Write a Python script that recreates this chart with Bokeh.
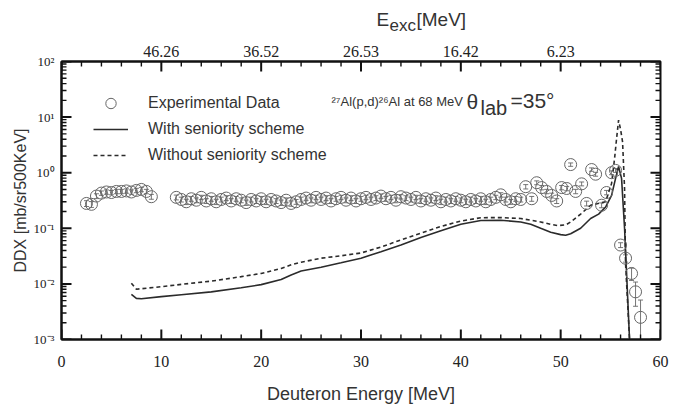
from bokeh.plotting import figure
from bokeh.layouts import column
from bokeh.models import (LinearAxis, FixedTicker, Range1d, Whisker,
                          ColumnDataSource, Legend, LegendItem, Label, TeeHead)
from bokeh.embed import file_html
from bokeh.resources import INLINE

# ---------------- data ----------------
# experimental data: low-energy group
g1_E = [2.5, 3.0, 3.5, 4.0, 4.5, 5.0, 5.5, 6.0, 6.5, 7.0, 7.5, 8.0, 8.5, 9.0]
g1_v = [0.28, 0.27, 0.38, 0.43, 0.45, 0.44, 0.46, 0.46, 0.47, 0.45, 0.48, 0.50, 0.46, 0.37]
g1_err = [0.12, 0.12, 0.10, 0.09, 0.09, 0.09, 0.09, 0.09, 0.09, 0.09, 0.09, 0.09, 0.09, 0.10]

# experimental data: continuum group
g2_E = [11.5, 12.0, 12.5, 13.0, 13.5, 14.0, 14.5, 15.0, 15.5, 16.0,
        16.5, 17.0, 17.5, 18.0, 18.5, 19.0, 19.5, 20.0, 20.5, 21.0,
        21.5, 22.0, 22.5, 23.0, 23.5, 24.0, 24.5, 25.0, 25.5, 26.0,
        26.5, 27.0, 27.5, 28.0, 28.5, 29.0, 29.5, 30.0, 30.5, 31.0,
        31.5, 32.0, 32.5, 33.0, 33.5, 34.0, 34.5, 35.0, 35.5, 36.0,
        36.5, 37.0, 37.5, 38.0, 38.5, 39.0, 39.5, 40.0, 40.5, 41.0,
        41.5, 42.0, 42.5, 43.0, 43.5, 44.0, 44.5, 45.0, 45.5, 46.0]
g2_v = [0.36, 0.33, 0.30, 0.34, 0.32, 0.36, 0.31, 0.34, 0.30, 0.33,
        0.35, 0.31, 0.34, 0.32, 0.29, 0.33, 0.31, 0.34, 0.30, 0.33,
        0.31, 0.29, 0.32, 0.28, 0.30, 0.33, 0.35, 0.32, 0.36, 0.33,
        0.35, 0.31, 0.34, 0.36, 0.32, 0.35, 0.31, 0.34, 0.36, 0.33,
        0.35, 0.38, 0.34, 0.36, 0.32, 0.37, 0.35, 0.33, 0.36, 0.31,
        0.34, 0.32, 0.35, 0.30, 0.33, 0.31, 0.34, 0.32, 0.30, 0.33,
        0.31, 0.34, 0.30, 0.33, 0.36, 0.40, 0.33, 0.30, 0.34, 0.33]
g2_err = [0.10, 0.10, 0.11, 0.10, 0.10, 0.09, 0.10, 0.10, 0.11, 0.10,
          0.10, 0.10, 0.10, 0.10, 0.11, 0.10, 0.10, 0.10, 0.11, 0.10,
          0.10, 0.11, 0.10, 0.11, 0.10, 0.10, 0.09, 0.10, 0.09, 0.10,
          0.10, 0.10, 0.10, 0.09, 0.10, 0.10, 0.10, 0.10, 0.09, 0.10,
          0.10, 0.09, 0.10, 0.09, 0.10, 0.09, 0.10, 0.10, 0.09, 0.10,
          0.10, 0.10, 0.10, 0.11, 0.10, 0.10, 0.10, 0.10, 0.11, 0.10,
          0.10, 0.10, 0.11, 0.10, 0.09, 0.09, 0.10, 0.10, 0.10, 0.10]

# experimental data: discrete-level region
g3_E = [46.5, 47.1, 47.6, 48.1, 48.6, 49.1, 49.6, 50.1, 50.6, 51.0,
        51.5, 52.1, 52.6, 53.1, 53.5, 54.1, 54.6, 55.1, 55.5]
g3_v = [0.56, 0.34, 0.66, 0.54, 0.46, 0.39, 0.31, 0.54, 0.52, 1.40,
        0.46, 0.63, 0.28, 1.14, 0.94, 0.26, 0.44, 1.00, 1.10]
g3_err = [0.09, 0.10, 0.08, 0.09, 0.09, 0.10, 0.10, 0.09, 0.09, 0.07,
          0.09, 0.08, 0.10, 0.07, 0.08, 0.10, 0.09, 0.08, 0.08]

# experimental data: high-energy tail
tail_E = [56.0, 56.5, 57.1, 57.5, 58.0]
tail_v = [0.050, 0.029, 0.0154, 0.0072, 0.0025]
tail_err_hi = [0.10, 0.15, 0.25, 0.50, 1.05]
tail_err_lo = [0.10, 0.15, 0.25, 0.45, 0.60]

# calculation with seniority scheme (solid)
with_E = [7.0, 7.5, 8.0, 10.0, 12.0, 15.0, 18.0, 20.0, 22.0, 23.0,
          24.0, 26.0, 28.0, 30.0, 32.0, 34.0, 36.0, 38.0, 40.0, 42.0,
          44.0, 46.0, 47.0, 48.0, 49.0, 50.0, 50.5, 51.0, 52.0, 53.0,
          53.8, 54.5, 55.1, 55.5, 55.8, 56.1, 56.4, 56.9]
with_v = [0.0065, 0.0055, 0.0054, 0.0059, 0.0064, 0.0072, 0.0085, 0.0097, 0.0120, 0.0145,
          0.0170, 0.0200, 0.0240, 0.0290, 0.0380, 0.0500, 0.0680, 0.0900, 0.1180, 0.1380,
          0.1400, 0.1300, 0.1180, 0.1000, 0.0850, 0.0770, 0.0750, 0.0800, 0.1000, 0.1500,
          0.1800, 0.2400, 0.3900, 0.7900, 1.2900, 0.7900, 0.1000, 0.0010]

# calculation without seniority scheme (dashed)
without_E = [7.0, 7.5, 8.0, 10.0, 12.0, 15.0, 18.0, 20.0, 22.0, 23.0,
             24.0, 26.0, 28.0, 30.0, 32.0, 34.0, 36.0, 38.0, 40.0, 42.0,
             44.0, 46.0, 47.0, 48.0, 49.0, 49.7, 50.5, 51.0, 52.0, 53.0,
             54.5, 55.1, 55.4, 55.6, 55.8, 56.0, 56.2, 56.4, 56.5, 56.9]
without_v = [0.0103, 0.0080, 0.0082, 0.0089, 0.0098, 0.0112, 0.0135, 0.0154, 0.0190, 0.0220,
             0.0245, 0.0290, 0.0320, 0.0360, 0.0460, 0.0620, 0.0820, 0.1080, 0.1350, 0.1550,
             0.1560, 0.1500, 0.1400, 0.1300, 0.1180, 0.1120, 0.1150, 0.1300, 0.1800, 0.2600,
             0.3000, 0.6400, 1.8000, 4.1000, 8.8000, 6.0000, 3.6000, 0.5200, 0.0230, 0.0010]

# axes
x_ticks = [0, 10, 20, 30, 40, 50, 60]
x_tick_labels = ["0", "10", "20", "30", "40", "50", "60"]
x_minor = [2, 4, 6, 8, 12, 14, 16, 18, 22, 24, 26, 28, 32, 34, 36, 38,
           42, 44, 46, 48, 52, 54, 56, 58]
top_ticks = [10, 20, 30, 40, 50]
top_tick_labels = ["46.26", "36.52", "26.53", "16.42", "6.23"]
y_ticks = [0.001, 0.01, 0.1, 1.0, 10.0, 100.0]
y_tick_labels = ["10\u207b\u00b3", "10\u207b\u00b2", "10\u207b\u00b9", "10\u2070", "10\u00b9", "10\u00b2"]
y_minor = [k * 10.0 ** e for e in range(-3, 2) for k in range(2, 10)]

# ---------------- layout constants ----------------
TICK_FONT = "Liberation Sans Narrow"
TEXT_FONT = "Liberation Sans"
AX = "#111111"
GRAY = "#666666"
LINE = "#2b2b2b"
FW, FH = 599, 278
X0, X1, Y0, Y1 = 0.0, 60.0, 1e-3, 1e2
PX_X = FW / (X1 - X0)          # px per MeV
PX_DEC = FH / 5.0              # px per decade
MAJ, MIN_ = 10, 5              # tick lengths (px)

# ---------------- main figure ----------------
p = figure(frame_width=FW, frame_height=FH, y_axis_type="log",
           x_range=Range1d(X0, X1), y_range=Range1d(Y0, Y1),
           output_backend="svg", toolbar_location=None,
           min_border_left=61, min_border_top=25, min_border_right=10, min_border_bottom=62,
           background_fill_color="white", border_fill_color="white")
p.xgrid.visible = False
p.ygrid.visible = False
p.outline_line_color = AX
p.outline_line_width = 2


def style_axis(ax):
    ax.axis_line_color = AX
    ax.axis_line_width = 2
    ax.major_tick_out = 0
    ax.minor_tick_out = 0
    ax.major_tick_in = 0
    ax.minor_tick_in = 0
    ax.major_label_text_font = TICK_FONT
    ax.major_label_text_color = "#222222"


xb = p.xaxis[0]
xb.ticker = FixedTicker(ticks=x_ticks)
xb.major_label_overrides = dict(zip(x_ticks, x_tick_labels))
style_axis(xb)
xb.major_label_text_font_size = "16px"
xb.major_label_standoff = 16
xb.axis_label = "Deuteron Energy [MeV]"
xb.axis_label_text_font = TEXT_FONT
xb.axis_label_text_font_style = "normal"
xb.axis_label_text_font_size = "18px"
xb.axis_label_text_color = "#333333"
xb.axis_label_standoff = 14

yl = p.yaxis[0]
yl.ticker = FixedTicker(ticks=y_ticks)
yl.major_label_overrides = dict(zip(y_ticks, y_tick_labels))
style_axis(yl)
yl.major_label_text_font_size = "13px"
yl.major_label_standoff = 7
yl.axis_label = "DDX [mb/sr500KeV]"
yl.axis_label_text_font = TEXT_FONT
yl.axis_label_text_font_style = "normal"
yl.axis_label_text_font_size = "16px"
yl.axis_label_text_color = "#333333"
yl.axis_label_standoff = 2

xt = LinearAxis(ticker=FixedTicker(ticks=top_ticks))
xt.major_label_overrides = dict(zip(top_ticks, top_tick_labels))
style_axis(xt)
xt.major_label_text_font_size = "16px"
xt.major_label_standoff = 5
p.add_layout(xt, "above")

# ---------------- data glyphs ----------------
pts_E = g1_E + g2_E + g3_E + tail_E
pts_v = g1_v + g2_v + g3_v + tail_v
err_hi = g1_err + g2_err + g3_err + tail_err_hi
err_lo = g1_err + g2_err + g3_err + tail_err_lo
src = ColumnDataSource(data=dict(
    x=pts_E, y=pts_v,
    upper=[v * (1 + e) for v, e in zip(pts_v, err_hi)],
    lower=[v * (1 - e) for v, e in zip(pts_v, err_lo)],
))

r_without = p.line(without_E, without_v, line_color=LINE, line_width=1.6, line_dash="4 3")
r_with = p.line(with_E, with_v, line_color=LINE, line_width=1.6)

wh = Whisker(source=src, base="x", upper="upper", lower="lower",
             line_color=GRAY, line_width=0.9,
             upper_head=TeeHead(size=5, line_color=GRAY, line_width=0.9),
             lower_head=TeeHead(size=5, line_color=GRAY, line_width=0.9))
p.add_layout(wh)
r_pts = p.scatter("x", "y", source=src, marker="circle", size=12,
                  fill_color=None, line_color=GRAY, line_width=1.0)

# ---------------- inward tick marks (whisker annotations, no heads) ----------------
def fx(px):
    return px / PX_X

def fy(px):
    return 10 ** (px / PX_DEC)

for major in (True, False):
    xs = x_ticks if major else x_minor
    ys = y_ticks if major else y_minor
    L = MAJ if major else MIN_
    w = 2.0 if major else 1.4
    v_src = ColumnDataSource(data=dict(
        base=[float(x) for x in xs] * 2,
        lower=[Y0] * len(xs) + [Y1 / fy(L)] * len(xs),
        upper=[Y0 * fy(L)] * len(xs) + [Y1] * len(xs),
    ))
    p.add_layout(Whisker(source=v_src, base="base", lower="lower", upper="upper",
                         dimension="height", upper_head=None, lower_head=None,
                         line_color=AX, line_width=w))
    h_src = ColumnDataSource(data=dict(
        base=[float(y) for y in ys] * 2,
        lower=[X0] * len(ys) + [X1 - fx(L)] * len(ys),
        upper=[X0 + fx(L)] * len(ys) + [X1] * len(ys),
    ))
    p.add_layout(Whisker(source=h_src, base="base", lower="lower", upper="upper",
                         dimension="width", upper_head=None, lower_head=None,
                         line_color=AX, line_width=w))

legend = Legend(items=[
    LegendItem(label="Experimental Data", renderers=[r_pts]),
    LegendItem(label="With seniority scheme", renderers=[r_with]),
    LegendItem(label="Without seniority scheme", renderers=[r_without]),
], location=(32, 171), orientation="vertical",
    glyph_width=35, glyph_height=26, label_height=20, spacing=0,
    label_standoff=20, padding=0, margin=0,
    border_line_alpha=0, background_fill_alpha=0,
    label_text_font=TEXT_FONT, label_text_font_size="16px", label_text_color="#333333")
p.add_layout(legend)


def add_label(fig, x, y, text, size):
    fig.add_layout(Label(x=x, y=y, x_units="screen", y_units="screen", text=text,
                         text_font=TEXT_FONT, text_font_size=size, text_color="#333333",
                         text_baseline="middle", text_align="left"))

add_label(p, 270, 238, "\u00b2\u2077Al(p,d)\u00b2\u2076Al at 68 MeV", "13px")
add_label(p, 405, 238, "\u03b8", "21px")
add_label(p, 419, 232, "lab", "20px")
add_label(p, 449, 239, "=35\u00b0", "21px")

# ---------------- strip above holding the top-axis title ----------------
top = figure(width=61 + FW + 10, height=36, x_range=Range1d(0, 1), y_range=Range1d(0, 1),
             output_backend="svg", toolbar_location=None,
             x_axis_location=None, y_axis_location=None, min_border=0,
             outline_line_color=None, background_fill_color="white", border_fill_color="white")
top.xgrid.visible = False
top.ygrid.visible = False
add_label(top, 315, 17, "E", "19px")
add_label(top, 328, 11, "exc", "17px")
add_label(top, 355, 17, "[MeV]", "19px")

layout = column(top, p, spacing=0)
open("out.html", "w").write(file_html(layout, INLINE))
